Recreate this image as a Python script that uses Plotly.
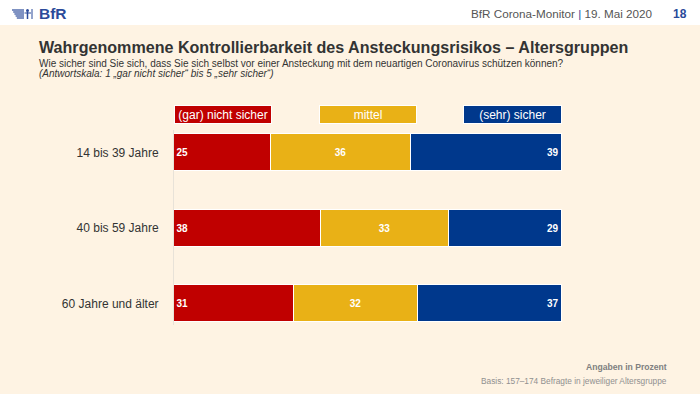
import plotly.graph_objects as go

categories = ["14 bis 39 Jahre", "40 bis 59 Jahre", "60 Jahre und älter"]
series_names = ["(gar) nicht sicher", "mittel", "(sehr) sicher"]
nicht_sicher = [25, 38, 31]
mittel = [36, 33, 32]
sicher = [39, 29, 37]

colors = ["#C00000", "#E9B116", "#00388C"]
anchors = ["start", "middle", "end"]
BG = "#FEF3E3"
LOGO = "#2B4A9A"

W, H = 700, 394
L, R, T, B = 174, 562, 130, 325


def px(x):
    return (x - L) / (R - L)


def py(y):
    return (B - y) / (B - T)


fig = go.Figure()
ypos = list(range(len(categories)))
for name, vals, c, a in zip(series_names, [nicht_sicher, mittel, sicher], colors, anchors):
    fig.add_trace(go.Bar(
        y=ypos, x=vals, orientation="h", name=name,
        marker=dict(color=c, line=dict(color="white", width=1)),
        width=0.49,
        text=[str(v) for v in vals], textposition="inside", insidetextanchor=a,
        textfont=dict(color="white", size=10, family="Liberation Sans"),
        texttemplate="<b>%{text}</b>",
        hoverinfo="skip", cliponaxis=False,
    ))

shapes = [
    dict(type="rect", xref="paper", yref="paper", x0=px(0), x1=px(W), y0=py(25), y1=py(0),
         fillcolor="white", line=dict(width=0), layer="below"),
]
# logo icon: stripes + little figure
for i, yy in enumerate([10, 12, 14, 16, 18]):
    shapes.append(dict(type="line", xref="paper", yref="paper",
                       x0=px(12 + i * 1.2), x1=px(24), y0=py(yy), y1=py(yy),
                       line=dict(color=LOGO, width=1.2)))
shapes += [
    dict(type="circle", xref="paper", yref="paper", x0=px(26), x1=px(29), y0=py(12), y1=py(9),
         fillcolor=LOGO, line=dict(width=0)),
    dict(type="line", xref="paper", yref="paper", x0=px(27.5), x1=px(27.5), y0=py(12), y1=py(19),
         line=dict(color=LOGO, width=1.5)),
    dict(type="line", xref="paper", yref="paper", x0=px(24.5), x1=px(31), y0=py(13), y1=py(13),
         line=dict(color=LOGO, width=1)),
    dict(type="line", xref="paper", yref="paper", x0=px(32), x1=px(32), y0=py(9), y1=py(19),
         line=dict(color=LOGO, width=1)),
]

annotations = [
    dict(text="<b>BfR</b>", x=px(37), y=py(14), xanchor="left", yanchor="middle",
         font=dict(size=15.5, color=LOGO, family="Liberation Sans")),
    dict(text="<span style='color:#555'>BfR Corona-Monitor </span><span style='color:#2A4A9A'>|</span><span style='color:#555'> 19. Mai 2020</span>",
         x=px(655), y=py(14), xanchor="right", yanchor="middle",
         font=dict(size=11.7, family="Liberation Sans")),
    dict(text="<b>18</b>", x=px(680), y=py(14), xanchor="center", yanchor="middle",
         font=dict(size=12, color="#2A4A9A", family="Liberation Sans")),
    dict(text="<b>Wahrgenommene Kontrollierbarkeit des Ansteckungsrisikos – Altersgruppen</b>",
         x=px(37), y=py(47), xanchor="left", yanchor="middle",
         font=dict(size=16.1, color="#333333", family="Liberation Sans")),
    dict(text="Wie sicher sind Sie sich, dass Sie sich selbst vor einer Ansteckung mit dem neuartigen Coronavirus schützen können?",
         x=px(37), y=py(63), xanchor="left", yanchor="middle",
         font=dict(size=10, color="#333333", family="Liberation Sans")),
    dict(text="<i>(Antwortskala: 1 „gar nicht sicher“ bis 5 „sehr sicher“)</i>",
         x=px(37), y=py(74), xanchor="left", yanchor="middle",
         font=dict(size=10, color="#333333", family="Liberation Sans")),
    dict(text="<b>Angaben in Prozent</b>", x=px(669), y=py(367), xanchor="right", yanchor="middle",
         font=dict(size=8.6, color="#808080", family="Liberation Sans")),
    dict(text="Basis: 157–174 Befragte in jeweiliger Altersgruppe", x=px(669), y=py(381),
         xanchor="right", yanchor="middle",
         font=dict(size=8.3, color="#909090", family="Liberation Sans")),
]

legend_boxes = [(174, 272), (319, 417), (463, 562)]
for (x0, x1), name, c in zip(legend_boxes, series_names, colors):
    annotations.append(dict(
        text=name, x=px((x0 + x1) / 2), y=py(114.5), xanchor="center", yanchor="middle",
        width=x1 - x0 - 4, height=15, bgcolor=c, bordercolor="white", borderwidth=1, borderpad=1,
        font=dict(size=12, color="white", family="Liberation Sans"), showarrow=False,
    ))

for a in annotations:
    a.setdefault("xref", "paper")
    a.setdefault("yref", "paper")
    a.setdefault("showarrow", False)

fig.update_layout(
    width=W, height=H,
    margin=dict(l=L, r=W - R, t=T, b=H - B, pad=0),
    paper_bgcolor=BG, plot_bgcolor=BG,
    barmode="stack", bargap=0, showlegend=False,
    xaxis=dict(range=[0, 100], visible=False, fixedrange=True),
    yaxis=dict(range=[2.28, -0.3], tickvals=ypos, ticktext=categories,
               showgrid=False, zeroline=False, showline=True, linecolor="#E8E2D8", linewidth=1,
               ticks="", ticklabelstandoff=12, fixedrange=True,
               tickfont=dict(size=12, color="#333333", family="Liberation Sans")),
    shapes=shapes, annotations=annotations,
    font=dict(family="Liberation Sans"),
)

fig.write_html("out.html", config={"displayModeBar": False},
               post_script="document.body.style.margin='0';document.body.style.overflow='hidden';")
